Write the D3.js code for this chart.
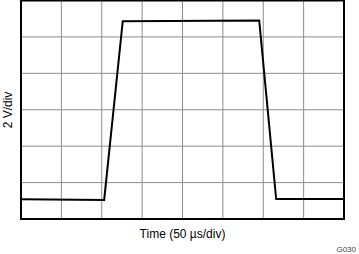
<!DOCTYPE html>
<html>
<head>
<meta charset="utf-8">
<script src="https://cdn.jsdelivr.net/npm/d3@7"></script>
<style>
  body { margin: 0; background: #fff; }
  svg text { font-family: "Liberation Sans", Arial, sans-serif; }
</style>
</head>
<body>
<svg id="chart" width="359" height="254"></svg>
<script>
// time in µs (50 µs/div), voltage in V (2 V/div)
const timeUs = [0, 103, 126, 295, 316, 400];
const volts = [1.08, 1.05, 10.86, 10.9, 1.1, 1.1];
const xTicks = [0, 50, 100, 150, 200, 250, 300, 350, 400];
const yTicks = [0, 2, 4, 6, 8, 10, 12];

const svg = d3.select("#chart");
const plotLeft = 21, plotRight = 344, plotTop = 0.5, plotBottom = 219;

const x = d3.scaleLinear().domain([0, 400]).range([plotLeft, plotRight]);
const y = d3.scaleLinear().domain([0, 12]).range([plotBottom, plotTop]);

// grid
const grid = svg.append("g");
grid.selectAll("line.v")
  .data(xTicks.slice(1, -1))
  .enter().append("line")
  .attr("x1", d => x(d)).attr("x2", d => x(d))
  .attr("y1", plotTop).attr("y2", plotBottom)
  .attr("stroke", "#8c8c8c").attr("stroke-width", 1);
grid.selectAll("line.h")
  .data(yTicks.slice(1, -1))
  .enter().append("line")
  .attr("x1", plotLeft).attr("x2", plotRight)
  .attr("y1", d => y(d)).attr("y2", d => y(d))
  .attr("stroke", "#8c8c8c").attr("stroke-width", 1);

// frame
svg.append("rect")
  .attr("x", plotLeft).attr("y", plotTop)
  .attr("width", plotRight - plotLeft).attr("height", plotBottom - plotTop)
  .attr("fill", "none").attr("stroke", "#000").attr("stroke-width", 2);

// waveform
const line = d3.line().x((d, i) => x(timeUs[i])).y(d => y(d));
svg.append("path")
  .datum(volts)
  .attr("d", line)
  .attr("fill", "none")
  .attr("stroke", "#000")
  .attr("stroke-width", 2)
  .attr("stroke-linejoin", "miter");

// labels
svg.append("text")
  .attr("x", (plotLeft + plotRight) / 2).attr("y", 238)
  .attr("text-anchor", "middle")
  .attr("font-size", 12)
  .text("Time (50 µs/div)");

svg.append("text")
  .attr("transform", "translate(12,110) rotate(-90)")
  .attr("text-anchor", "middle")
  .attr("font-size", 12)
  .text("2 V/div");

svg.append("text")
  .attr("x", 356).attr("y", 252)
  .attr("text-anchor", "end")
  .attr("font-size", 8)
  .attr("fill", "#444")
  .text("G030");
</script>
</body>
</html>
